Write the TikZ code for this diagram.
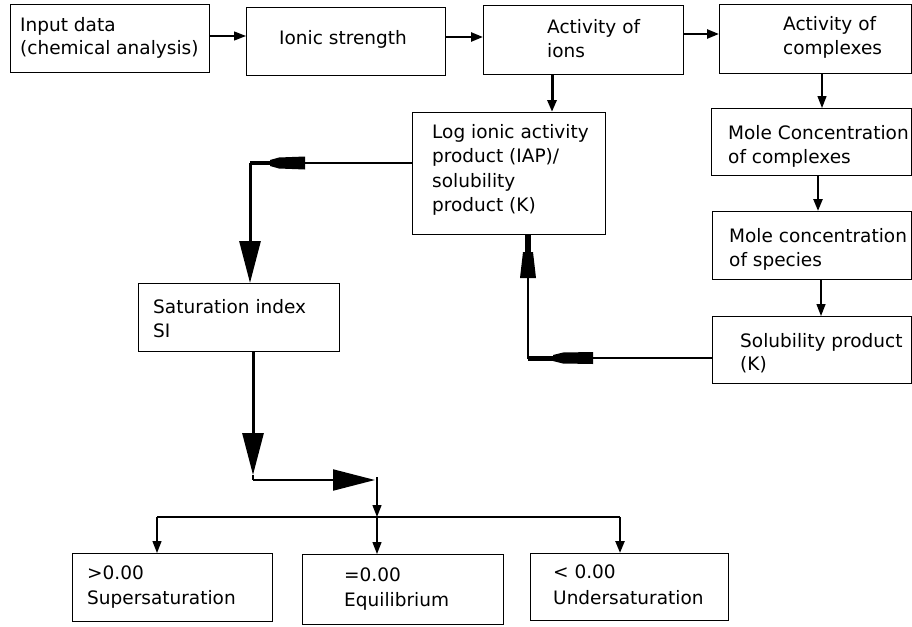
\documentclass[tikz,border=0pt]{standalone}
\usepackage{fontspec}
\setmainfont{DejaVu Sans}
\usetikzlibrary{arrows.meta}
\newcommand\diagfs{\fontsize{18.5}{23}\selectfont}
\begin{document}
\begin{tikzpicture}[x=1pt,y=-1pt,
  box/.style={draw, line width=1.3pt, inner sep=0pt, anchor=north west},
  txt/.style={anchor=base west, inner sep=0pt, font=\diagfs},
  conn/.style={line width=1.3pt},
  conntwo/.style={line width=2.4pt},
  connthree/.style={line width=3pt},
  tip/.style={-{Triangle[length=12pt,width=9pt]}},
  bigtip/.style={-{Triangle[length=42pt,width=21pt]}},
  wedge/.style={fill=black}]
\useasboundingbox (0,0) rectangle (912,626);
% boxes
\node[box, minimum width=199pt, minimum height=68pt] (inp) at (10,4) {};
\node[box, minimum width=199pt, minimum height=68pt] (ion) at (246,7) {};
\node[box, minimum width=200pt, minimum height=69pt] (act) at (483,5) {};
\node[box, minimum width=192pt, minimum height=69pt] (cpx) at (719,4) {};
\node[box, minimum width=193pt, minimum height=122pt] (log) at (412,112) {};
\node[box, minimum width=200pt, minimum height=67pt] (mcc) at (711,108) {};
\node[box, minimum width=199pt, minimum height=68pt] (mcs) at (712,211) {};
\node[box, minimum width=199pt, minimum height=67pt] (sol) at (712,316) {};
\node[box, minimum width=201pt, minimum height=68pt] (sat) at (138,283) {};
\node[box, minimum width=200pt, minimum height=68pt] (sup) at (72,553) {};
\node[box, minimum width=201pt, minimum height=70pt] (equ) at (302,554) {};
\node[box, minimum width=198pt, minimum height=67pt] (und) at (530,553) {};
% texts
\node[txt] (inp-t1) at (20,32) {Input data};
\node[txt] (inp-t2) at (20,55) {(chemical analysis)};
\node[txt] (ion-t1) at (279,45) {Ionic strength};
\node[txt] (act-t1) at (547,34) {Activity of};
\node[txt] (act-t2) at (547,58) {ions};
\node[txt] (cpx-t1) at (783,31) {Activity of};
\node[txt] (cpx-t2) at (783,55) {complexes};
\node[txt] (log-t1) at (432,138) {Log ionic activity};
\node[txt] (log-t2) at (432,162.5) {product (IAP)/};
\node[txt] (log-t3) at (432,187) {solubility};
\node[txt] (log-t4) at (432,211.5) {product (K)};
\node[txt] (mcc-t1) at (728,139) {Mole Concentration};
\node[txt] (mcc-t2) at (728,163) {of complexes};
\node[txt] (mcs-t1) at (729,242) {Mole concentration};
\node[txt] (mcs-t2) at (729,266) {of species};
\node[txt] (sol-t1) at (740,347) {Solubility product};
\node[txt] (sol-t2) at (740,370) {(K)};
\node[txt] (sat-t1) at (153,313) {Saturation index};
\node[txt] (sat-t2) at (153,337) {SI};
\node[txt] (sup-t1) at (87,579) {>0.00};
\node[txt] (sup-t2) at (87,604) {Supersaturation};
\node[txt] (equ-t1) at (344,581) {=0.00};
\node[txt] (equ-t2) at (344,606) {Equilibrium};
\node[txt] (und-t1) at (553,578) {< 0.00};
\node[txt] (und-t2) at (553,604) {Undersaturation};
% helper coordinates
\coordinate (r0) at (0,36);
\coordinate (r1) at (0,37);
\coordinate (r2) at (0,34);
\coordinate (colA) at (552,0);
\coordinate (colB) at (822,0);
\coordinate (colC) at (818,0);
\coordinate (colD) at (821,0);
\coordinate (rowL) at (0,163);
\coordinate (cL) at (250,163);
\coordinate (cLt) at (271,163);
\coordinate (rowF) at (0,358);
\coordinate (cF) at (528,358);
\coordinate (cFt) at (554,358);
\coordinate (cFu) at (528,278);
\coordinate (cFw) at (528,253);
\coordinate (cS1t) at (253,475);
\coordinate (cS1) at (253,480);
\coordinate (cS2t) at (375,480);
\coordinate (cS2) at (377,477);
\coordinate (bM) at (377,517);
\coordinate (bL) at (157,517);
\coordinate (bR) at (620,517);
% top row connectors
\draw[conn, tip] (inp.east |- r0) -- (ion.west |- r0);
\draw[conntwo, tip] (ion.east |- r1) -- (act.west |- r1);
\draw[conntwo, tip] (act.east |- r2) -- (cpx.west |- r2);
\draw[connthree, tip] (act.south -| colA) -- (log.north -| colA);
\draw[conn, tip] (cpx.south -| colB) -- (mcc.north -| colB);
\draw[conntwo, tip] (mcc.south -| colC) -- (mcs.north -| colC);
\draw[conn, tip] (mcs.south -| colD) -- (sol.north -| colD);
% loop from log box to saturation index
\draw[conn] (log.west |- rowL) -- (cL);
\draw[line width=4pt] (cL) -- (cLt);
\fill[wedge] (305,156.5) -- (305,169.5) -- (279,168.5) -- (270,166) -- (270,160) -- (279,157.5) -- cycle;
\draw[connthree, bigtip] (cL) -- (sat.north -| cL);
% feedback from solubility product to log box
\draw[conn] (sol.west |- rowF) -- (cF) -- (cFu);
\draw[line width=5pt] (cF) -- (cFt);
\fill[wedge] (593,352) -- (593,364) -- (563,363.5) -- (553,361) -- (553,355) -- (563,352.5) -- cycle;
\fill[wedge] (520,278) -- (536,278) -- (533,252) -- (523,252) -- cycle;
\draw[line width=6pt] (cFw) -- (log.south -| cFw);
% saturation index downwards
\draw[connthree, bigtip] (sat.south -| cS1) -- (cS1t);
\draw[line width=2pt] (cS1t) -- (cS1);
\draw[line width=2pt, bigtip] (cS1) -- (cS2t);
\draw[conn, tip] (cS2) -- (bM);
% bus and drops
\draw[conn] (bL) -- (bR);
\draw[conn, tip] (bL) -- (bL |- sup.north);
\draw[conn, tip] (bM) -- (bM |- equ.north);
\draw[conntwo, tip] (bR) -- (bR |- und.north);
\end{tikzpicture}
\end{document}
